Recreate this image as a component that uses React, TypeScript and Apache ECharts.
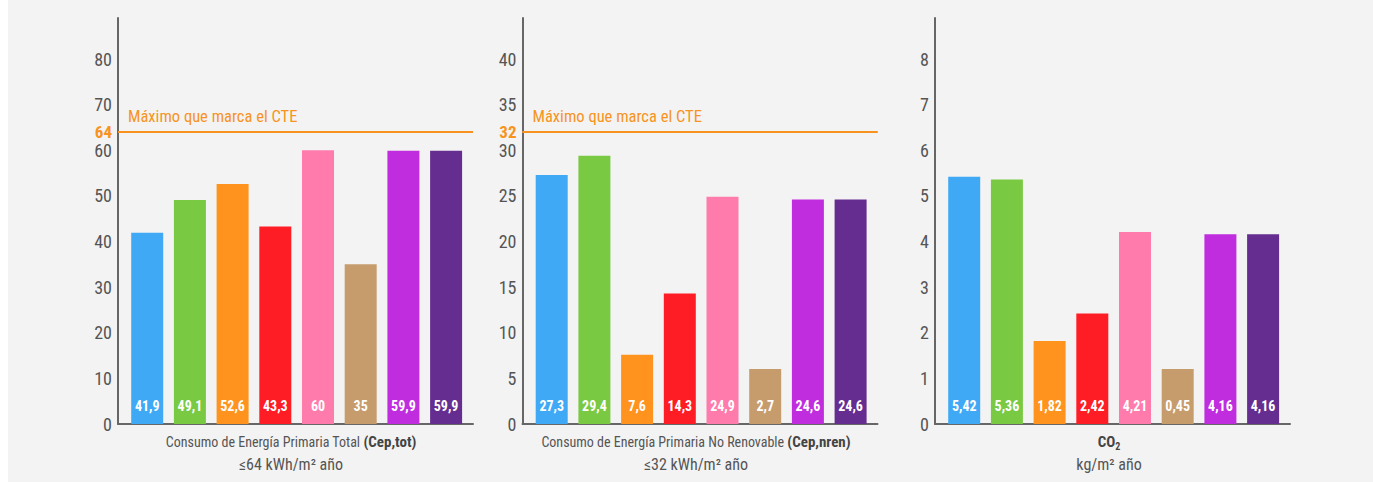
import React, { useEffect, useRef } from 'react';
import * as echarts from 'echarts';

const categories = ['Opción 1', 'Opción 2', 'Opción 3', 'Opción 4', 'Opción 5', 'Opción 6', 'Opción 7', 'Opción 8'];
const barColors = ['#3fa9f5', '#7ac943', '#ff931e', '#ff1d25', '#ff7bac', '#c69c6d', '#c02ddf', '#662d91'];
const cepTot = [41.9, 49.1, 52.6, 43.3, 60, 35, 59.9, 59.9];
const cepNren = [27.3, 29.4, 7.6, 14.3, 24.9, 2.7, 24.6, 24.6];
const co2 = [5.42, 5.36, 1.82, 2.42, 4.21, 0.45, 4.16, 4.16];
const limits: (number | null)[] = [64, 32, null];
const limitLabel = 'Máximo que marca el CTE';
const axisMax = [89, 44.5, 8.9];
const axisStep = [10, 5, 1];
const titleLine1 = [
  '{n|Consumo de Energía Primaria Total }{b|(Cep,tot)}',
  '{n|Consumo de Energía Primaria No Renovable }{b|(Cep,nren)}',
  '{b|CO}{s|2}',
];
const titleLine2 = ['≤64 kWh/m² año', '≤32 kWh/m² año', 'kg/m² año'];

const FONT = '"Roboto Condensed", "DejaVu Sans Condensed", sans-serif';
const ORANGE = '#f7931e';
const AXIS = '#666';
const TXT = '#555';

const gridLefts = [110, 514.5, 927];
const gridWidth = 355;
const titleCenters = [283, 688, 1101];

export default function App() {
  const ref = useRef<HTMLDivElement>(null);
  useEffect(() => {
    if (!ref.current) return;
    const chart = echarts.init(ref.current, undefined, { renderer: 'svg' });
    const datasets = [cepTot, cepNren, co2];
    const option: any = {
      animation: false,
      backgroundColor: 'transparent',
      textStyle: { fontFamily: FONT },
      grid: gridLefts.map((l) => ({ left: l, top: 18, width: gridWidth, height: 406 })),
      xAxis: datasets.map((_, i) => ({
        gridIndex: i,
        type: 'value',
        min: -0.684,
        max: 7.63,
        axisLine: { show: true, onZero: false, lineStyle: { color: AXIS, width: 2 } },
        axisTick: { show: false },
        axisLabel: { show: false },
        splitLine: { show: false },
      })),
      yAxis: datasets.map((_, i) => ({
        gridIndex: i,
        type: 'value',
        min: 0,
        max: axisMax[i],
        interval: axisStep[i],
        axisLine: { show: true, onZero: false, lineStyle: { color: AXIS, width: 2 } },
        axisTick: { show: false },
        splitLine: { show: false },
        axisLabel: { showMaxLabel: false, color: TXT, fontSize: 18, fontFamily: FONT, margin: 6 },
      })),
      series: datasets.map((vals, i) => {
        const s: any = {
          type: 'bar',
          xAxisIndex: i,
          yAxisIndex: i,
          barWidth: 32,
          barMinHeight: 55,
          data: vals.map((v, j) => ({ name: categories[j], value: [j, v], itemStyle: { color: barColors[j] } })),
          label: {
            show: true,
            position: 'insideBottom',
            distance: 11,
            color: '#fff',
            fontWeight: 'bold',
            fontSize: 14,
            fontFamily: FONT,
            formatter: (p: any) => String(p.value[1]).replace('.', ','),
          },
        };
        const lim = limits[i];
        if (lim !== null) {
          s.markLine = {
            silent: true,
            symbol: 'none',
            lineStyle: { color: ORANGE, width: 2, type: 'solid' },
            data: [
              {
                yAxis: lim,
                label: { show: true, position: 'start', formatter: String(lim), color: ORANGE, fontWeight: 'bold', fontSize: 17, fontFamily: FONT, distance: 6 },
              },
              {
                yAxis: lim,
                label: { show: true, position: 'insideStartTop', formatter: limitLabel, color: ORANGE, fontSize: 16.5, fontFamily: FONT, distance: [10, 7] },
              },
            ],
          };
        }
        return s;
      }),
      graphic: titleCenters.flatMap((cx, i) => [
        {
          type: 'text',
          x: cx,
          y: 442,
          style: {
            text: titleLine1[i],
            align: 'center',
            verticalAlign: 'middle',
            fontFamily: FONT,
            fontSize: 14,
            fill: TXT,
            rich: {
              n: { fontSize: 14, fill: TXT, fontFamily: FONT },
              b: { fontSize: 15, fill: '#444', fontWeight: 'bold', fontFamily: FONT },
              s: { fontSize: 10, fill: '#444', fontWeight: 'bold', fontFamily: FONT, padding: [8, 0, 0, 0] },
            },
          },
        },
        {
          type: 'text',
          x: cx,
          y: 464,
          style: { text: titleLine2[i], align: 'center', verticalAlign: 'middle', fontSize: 16, fill: TXT, fontFamily: FONT },
        },
      ]),
    };
    chart.setOption(option);
    return () => chart.dispose();
  }, []);
  return (
    <div
      ref={ref}
      style={{ position: 'absolute', left: 8, top: 0, width: 1365, height: 482, background: '#f3f3f3' }}
    />
  );
}
